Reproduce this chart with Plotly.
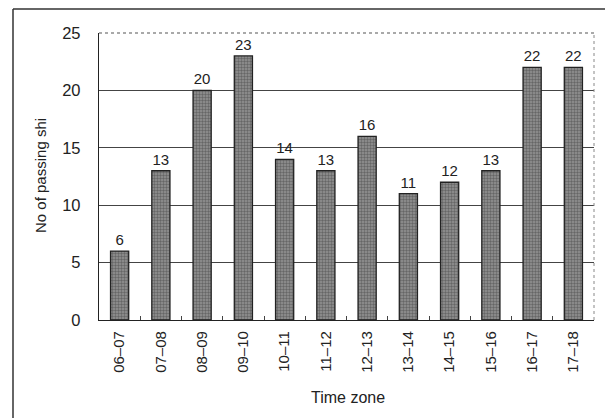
import plotly.graph_objects as go

# Ships passing per hourly time zone
time_zones = ["06\u201307", "07\u201308", "08\u201309", "09\u201310", "10\u201311", "11\u201312",
              "12\u201313", "13\u201314", "14\u201315", "15\u201316", "16\u201317", "17\u201318"]
ship_counts = [6, 13, 20, 23, 14, 13, 16, 11, 12, 13, 22, 22]
y_ticks = [0, 5, 10, 15, 20, 25]

W, H = 605, 418
L, R, T, B = 99, 11, 33, 98
pw, ph = W - L - R, H - T - B

def px_x(x):
    return (x - L) / pw

def px_y(y):
    return (H - B - y) / ph

FONT = "Liberation Sans, Arial, sans-serif"

fig = go.Figure(
    go.Bar(
        x=time_zones,
        y=ship_counts,
        text=[str(v) for v in ship_counts],
        textposition="outside",
        textfont=dict(size=15, color="#222222", family=FONT),
        cliponaxis=False,
        marker=dict(
            color="#808080",
            line=dict(color="#222222", width=1.3),
            pattern=dict(shape=".", fgcolor="#3a3a3a", bgcolor="#939393", size=3, solidity=0.5),
        ),
    )
)

fig.update_layout(
    width=W,
    height=H,
    margin=dict(l=L, r=R, t=T, b=B),
    paper_bgcolor="white",
    plot_bgcolor="white",
    showlegend=False,
    bargap=0.56,
    font=dict(family=FONT, color="#222222"),
)

fig.update_xaxes(
    type="category",
    showline=True,
    linecolor="#222222",
    linewidth=1.3,
    ticks="inside",
    tickson="boundaries",
    ticklen=4,
    tickcolor="#444444",
    tickangle=-90,
    tickfont=dict(size=15, color="#222222"),
    ticklabelstandoff=4,
    showgrid=False,
    zeroline=False,
)

fig.update_yaxes(
    range=[0, 25],
    tickvals=y_ticks,
    ticks="",
    showline=True,
    linecolor="#222222",
    linewidth=1.3,
    showgrid=True,
    gridcolor="#444444",
    gridwidth=1,
    zeroline=False,
    tickfont=dict(size=16.5, color="#222222"),
    ticklabelstandoff=14,
)

shapes = [
    # dotted top and right edges of the plot area
    dict(type="line", xref="paper", yref="paper", x0=0, x1=1, y0=1, y1=1,
         line=dict(color="#555555", width=1.2, dash="dot")),
    dict(type="line", xref="paper", yref="paper", x0=1, x1=1, y0=0, y1=1,
         line=dict(color="#888888", width=1, dash="dot")),
    # outer chart frame
    dict(type="line", xref="paper", yref="paper", x0=px_x(13), x1=px_x(13), y0=px_y(418), y1=px_y(9),
         line=dict(color="#333333", width=1.5)),
    dict(type="line", xref="paper", yref="paper", x0=px_x(13), x1=px_x(605), y0=px_y(9), y1=px_y(9),
         line=dict(color="#333333", width=1.5)),
]
fig.update_layout(shapes=shapes)

fig.add_annotation(
    text="No of passing shi", xref="paper", yref="paper",
    x=px_x(40), y=px_y(176), xanchor="center", yanchor="middle",
    textangle=-90, showarrow=False,
    font=dict(size=15, color="#222222", family=FONT),
)
fig.add_annotation(
    text="Time zone", xref="paper", yref="paper",
    x=px_x(348), y=px_y(397), xanchor="center", yanchor="middle",
    showarrow=False,
    font=dict(size=16, color="#222222", family=FONT),
)

fig.write_html("out.html")
